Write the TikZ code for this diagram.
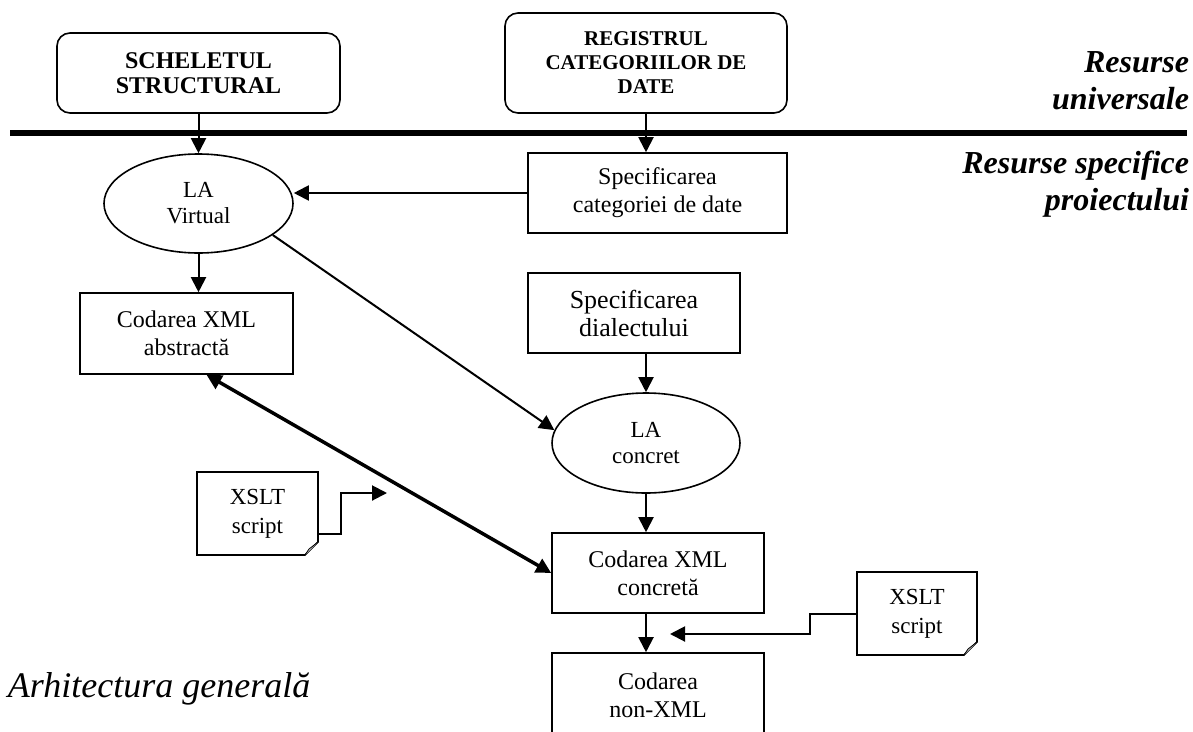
\documentclass[tikz,border=0pt]{standalone}
\usepackage{fontspec}
\setmainfont{Liberation Serif}
\usetikzlibrary{shapes.geometric}
\usetikzlibrary{arrows.meta}
\usetikzlibrary{calc}
\newcommand{\docfold}[1]{%
  \draw[line width=1.6pt] (#1.north west) -- (#1.north east) -- ([yshift=13pt]#1.south east) -- ([xshift=-13pt]#1.south east) -- (#1.south west) -- cycle;
  \filldraw[fill=gray!40, line width=0.8pt] ([yshift=13pt]#1.south east) -- ([xshift=-9pt,yshift=6pt]#1.south east) -- ([xshift=-13pt]#1.south east);
}

\begin{document}
\begin{tikzpicture}[x=1pt, y=-1pt, >={Triangle[length=15pt,width=15pt]},
resbox/.style = {rectangle, draw, rounded corners=13pt, line width=1.6pt, inner sep=0pt, align=center},
procbox/.style = {rectangle, draw, line width=1.6pt, minimum height=80pt, inner sep=0pt, align=center, font=\fontsize{24}{28}\selectfont},
laell/.style = {ellipse, draw, line width=1.6pt, minimum width=189pt, minimum height=99pt, inner sep=0pt, align=center, font=\fontsize{23}{26}\selectfont},
notebox/.style = {rectangle, minimum width=119pt, minimum height=81pt, inner sep=0pt, align=center, font=\fontsize{23}{29}\selectfont},
sidelabel/.style = {anchor=east, align=right, inner sep=0pt, font=\fontsize{32}{37}\selectfont\bfseries\itshape},
every path/.style = {line width=2pt}
]
\useasboundingbox (0,0) rectangle (1193,731);

% universal resources
\node (skeleton)[resbox, minimum width=283pt, minimum height=80pt, font=\fontsize{24}{25}\selectfont\bfseries] at (198.5,73) {SCHELETUL\\STRUCTURAL};
\node (registry)[resbox, minimum width=282pt, minimum height=100pt, font=\fontsize{21}{24}\selectfont\bfseries] at (646,63) {REGISTRUL\\CATEGORIILOR DE\\DATE};

\draw[line width=6pt] (10,133) -- (1187,133);

\node (univ)[sidelabel] at (1190,81) {Resurse\\universale};
\node (specific)[sidelabel] at (1190,184) {Resurse specifice\\proiectului};

% project resources
\node (speccat)[procbox, minimum width=259pt] at (657.5,193) {Specificarea\\categoriei de date};
\node (lavirt)[laell] at (198.5,203.5) {LA\\Virtual};
\node (absxml)[procbox, minimum width=213pt, minimum height=81pt] at (186.5,333.5) {Codarea XML\\abstractă};
\node (specdial)[procbox, minimum width=212pt, font=\fontsize{26}{28}\selectfont] at (634,313) {Specificarea\\dialectului};
\node (laconc)[laell, minimum width=188pt, minimum height=100pt] at (646,443) {LA\\concret};
\node (concxml)[procbox, minimum width=212pt] at (658,573) {Codarea XML\\concretă};
\node (nonxml)[procbox, minimum width=212pt, minimum height=84pt] at (658,695) {Codarea\\non-XML};

\node (xslta)[notebox] at (257.5,513.5) {XSLT\\script};
\node (xsltb)[notebox, minimum width=118pt] at (917,613.5) {XSLT\\script};
\docfold{xslta}
\docfold{xsltb}

\node (title)[anchor=base west, inner sep=0pt, font=\fontsize{36}{40}\selectfont\itshape] at (7,697) {Arhitectura generală};

\draw[->] (skeleton) -- (lavirt);
\draw[->] (registry.south) -- (registry.south |- speccat.north);
\draw[->] (speccat.west) -- (speccat.west -| lavirt.east);
\draw[->] (lavirt.south) -- (lavirt.south |- absxml.north);
\draw[->] (lavirt.-23) -- (laconc.172);
\draw[->] (specdial.south -| laconc.north) -- (laconc.north);
\draw[->] (laconc.south) -- (laconc.south |- concxml.north);
\draw[->] (laconc.south |- concxml.south) -- (laconc.south |- nonxml.north);
\draw[<->, line width=3.5pt] ([xshift=20pt]absxml.south) -- (concxml.west);

\coordinate (tipa) at (387,493);
\draw[->] ([yshift=-20pt]xslta.east) -- ++(23,0) |- (tipa);
\coordinate (tipb) at (670,634);
\draw[->] (xsltb.west) -- ++(-47,0) |- (tipb);

\end{tikzpicture}
\end{document}
